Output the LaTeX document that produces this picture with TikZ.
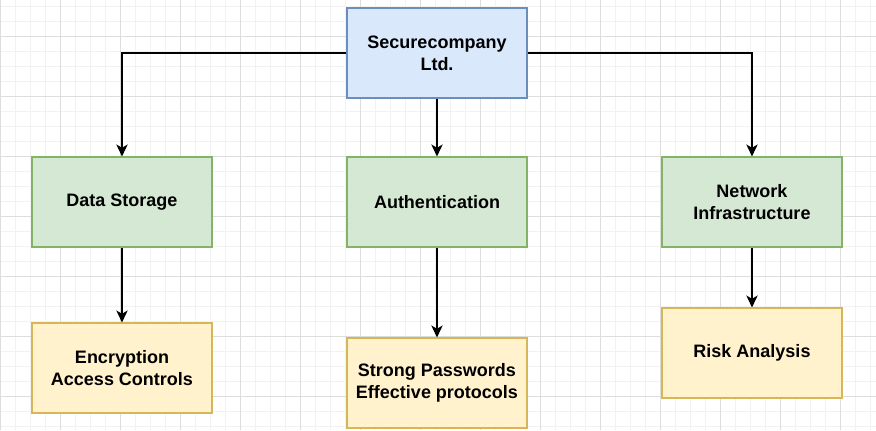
\documentclass[tikz,border=0pt]{standalone}
\usepackage{fontspec}
\setmainfont{Liberation Sans}
\usetikzlibrary{arrows.meta}
\definecolor{blueFill}{HTML}{DAE8FC}
\definecolor{blueLine}{HTML}{6C8EBF}
\definecolor{greenFill}{HTML}{D5E8D4}
\definecolor{greenLine}{HTML}{82B366}
\definecolor{yellowFill}{HTML}{FFF2CC}
\definecolor{yellowLine}{HTML}{D6B656}
\definecolor{gridMinor}{HTML}{F2F2F2}
\definecolor{gridMajor}{HTML}{DDDDDD}
\begin{document}
\begin{tikzpicture}[x=0.75pt,y=-0.75pt,
  box/.style={draw, line width=0.8pt, minimum width=135pt, minimum height=67.5pt,
    inner sep=0pt, align=center, font=\bfseries\fontsize{13.5}{16.2}\selectfont},
  topbox/.style={box, fill=blueFill, draw=blueLine},
  areabox/.style={box, fill=greenFill, draw=greenLine},
  measurebox/.style={box, fill=yellowFill, draw=yellowLine},
  link/.style={line width=1.1pt, -{Stealth[length=9pt, width=8.5pt, inset=2.5pt]}}]
\useasboundingbox (0,0) rectangle (876,430);
\fill[white] (0,0) rectangle (876,430);
% background grid
\foreach \x in {0,15,...,875} \draw[gridMinor, line width=0.75pt] (\x,0) -- (\x,430);
\foreach \y in {6,21,...,430} \draw[gridMinor, line width=0.75pt] (0,\y) -- (876,\y);
\foreach \x in {0,60,...,875} \draw[gridMajor, line width=0.75pt] (\x,0) -- (\x,430);
\foreach \y in {36,96,...,430} \draw[gridMajor, line width=0.75pt] (0,\y) -- (876,\y);

\node[topbox] (company) at (437,53) {Securecompany\\Ltd.};
\node[areabox] (storage) at (122,202) {Data Storage};
\node[areabox] (auth) at (437,202) {Authentication};
\node[areabox] (network) at (752,202) {Network\\Infrastructure};
\node[measurebox] (encrypt) at (122,368) {Encryption\\Access Controls};
\node[measurebox] (passwords) at (437,383) {Strong Passwords\\Effective protocols};
\node[measurebox] (risk) at (752,353) {Risk Analysis};

\draw[link] (company.west) -| (storage.north);
\draw[link] (company.south) -- (auth.north);
\draw[link] (company.east) -| (network.north);
\draw[link] (storage.south) -- (encrypt.north);
\draw[link] (auth.south) -- (passwords.north);
\draw[link] (network.south) -- (risk.north);
\end{tikzpicture}
\end{document}
